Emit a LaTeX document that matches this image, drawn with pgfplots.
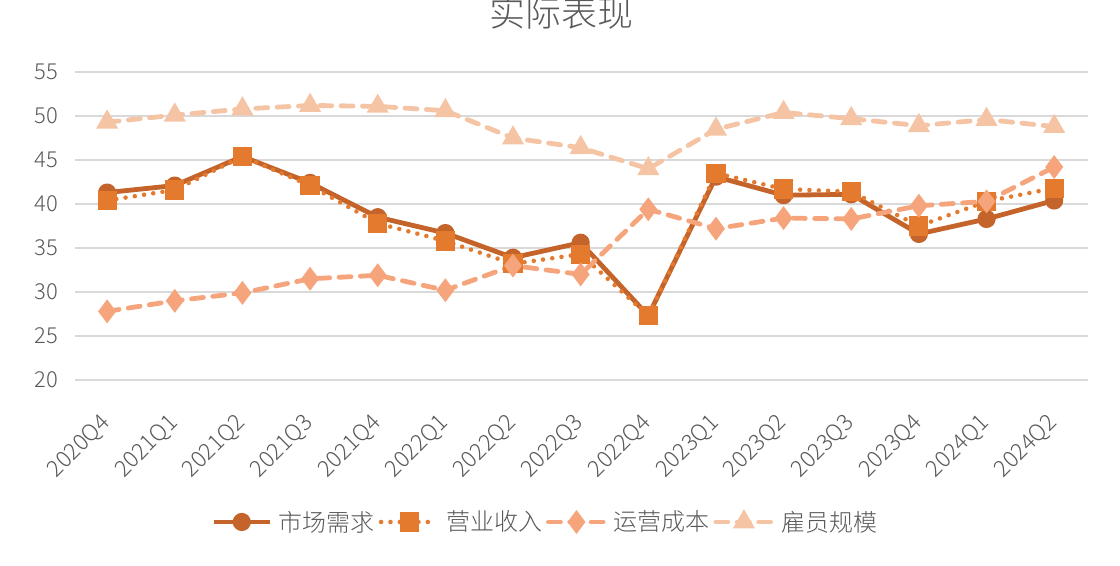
\documentclass[border=0pt]{standalone}
\usepackage{pgfplots}
\pgfplotsset{compat=1.18}
\usepackage{fontspec}
\setmainfont{Noto Sans CJK SC}[UprightFont={* Light}, BoldFont={*}]
\definecolor{cA}{HTML}{C4642B}
\definecolor{cB}{HTML}{E37A2E}
\definecolor{cC}{HTML}{F5A47C}
\definecolor{cD}{HTML}{F5C4A5}
\definecolor{txt}{HTML}{595959}
\definecolor{grd}{HTML}{D9D9D9}
\begin{document}
\begin{tikzpicture}
\useasboundingbox (0,0) rectangle (840pt,423.75pt);
\node[font=\fontsize{27}{31}\selectfont, text=txt] at (421pt,414pt) {实际表现};
\begin{axis}[
  at={(56.25pt,138.75pt)}, anchor=south west,
  scale only axis, width=759.75pt, height=231pt,
  xmin=-0.475, xmax=14.5, ymin=20, ymax=55,
  ytick={20,25,...,55},
  xtick={0,...,14},
  xticklabels={2020Q4,2021Q1,2021Q2,2021Q3,2021Q4,2022Q1,2022Q2,2022Q3,2022Q4,2023Q1,2023Q2,2023Q3,2023Q4,2024Q1,2024Q2},
  x tick label style={font=\fontsize{17}{20}\selectfont, text=txt, xshift=-6pt, yshift=-19pt, rotate=45, anchor=north east},
  y tick label style={font=\fontsize{16.5}{19}\selectfont, text=txt, xshift=-9pt},
  /pgf/number format/assume math mode=true,
  ymajorgrids, major grid style={grd, line width=1.1pt},
  axis line style={draw=none}, tick style={draw=none},
  clip=false,
  legend style={at={(0.4645,-0.461)}, anchor=center, draw=none, fill=none,
    legend columns=4, font=\fontsize{18}{21}\selectfont, text=txt,
    /tikz/every odd column/.append style={column sep=3pt},
    /tikz/every even column/.append style={column sep=1pt}},
  legend cell align=left,
  legend image code/.code={\draw[mark repeat=2,mark phase=2] plot coordinates {(0pt,0pt)(21pt,0pt)(42pt,0pt)};},
]
\addplot[cA, line width=3.6pt, line join=round, mark=*, mark size=5pt, mark options={solid, fill=cA, draw=cA}]
 coordinates {(0,41.3)(1,42.1)(2,45.4)(3,42.4)(4,38.5)(5,36.7)(6,33.9)(7,35.6)(8,27.3)(9,43.1)(10,41.0)(11,41.1)(12,36.6)(13,38.3)(14,40.4)};
\addlegendentry{市场需求}
\addplot[cB, line width=3.4pt, line cap=round, dash pattern=on 0pt off 7pt, mark=square*, mark size=5.5pt, mark options={solid, fill=cB, draw=cB}]
 coordinates {(0,40.4)(1,41.6)(2,45.4)(3,42.1)(4,37.8)(5,35.8)(6,33.2)(7,34.3)(8,27.3)(9,43.5)(10,41.7)(11,41.4)(12,37.5)(13,40.3)(14,41.8)};
\addlegendentry{营业收入}
\addplot[cC, line width=3.6pt, line cap=round, dash pattern=on 9pt off 7pt, mark=diamond*, mark size=6pt, mark options={solid, fill=cC, draw=cC}]
 coordinates {(0,27.8)(1,29.0)(2,29.9)(3,31.5)(4,31.9)(5,30.2)(6,33.0)(7,32.0)(8,39.4)(9,37.2)(10,38.4)(11,38.3)(12,39.8)(13,40.3)(14,44.2)};
\addlegendentry{运营成本}
\addplot[cD, line width=3.6pt, line cap=round, dash pattern=on 9pt off 7pt, mark=triangle*, mark size=6pt, mark options={solid, fill=cD, draw=cD}]
 coordinates {(0,49.3)(1,50.1)(2,50.8)(3,51.2)(4,51.1)(5,50.6)(6,47.5)(7,46.4)(8,44.0)(9,48.5)(10,50.4)(11,49.7)(12,48.9)(13,49.6)(14,48.8)};
\addlegendentry{雇员规模}
\end{axis}
\end{tikzpicture}
\end{document}
